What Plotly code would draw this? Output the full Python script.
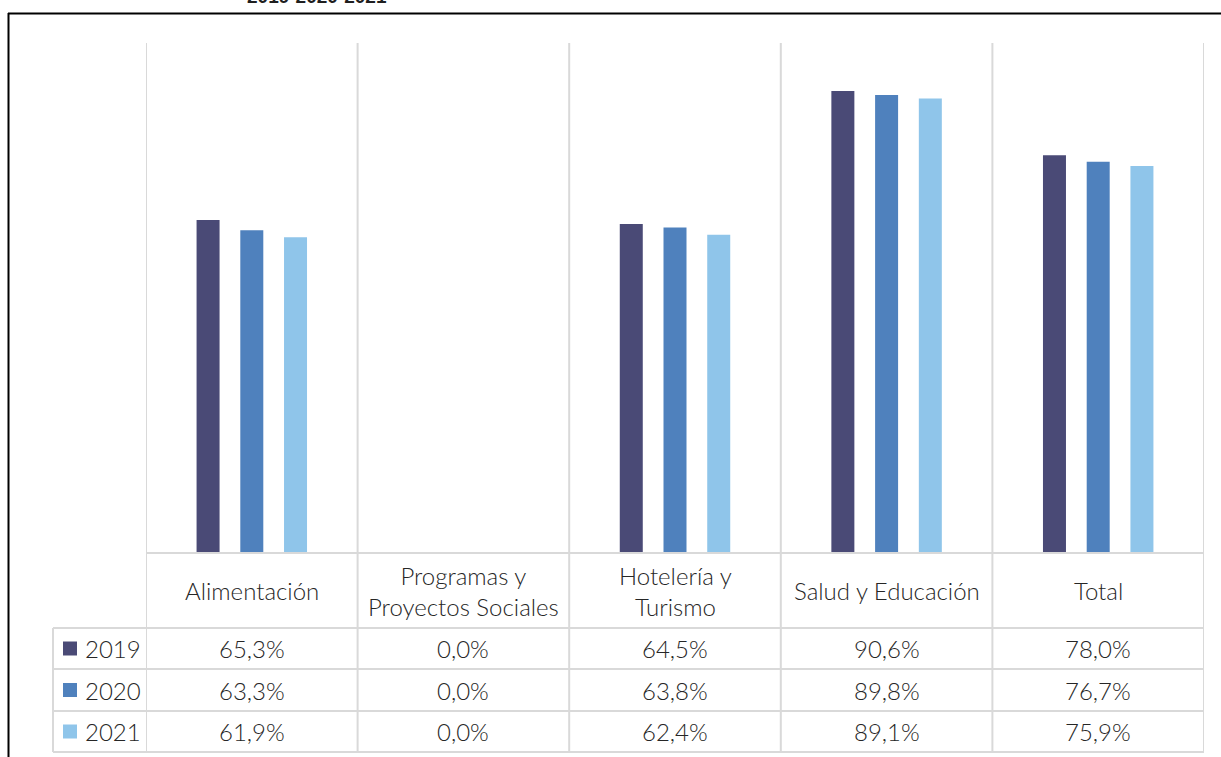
import plotly.graph_objects as go

categories = ["Alimentación", "Programas y Proyectos Sociales", "Hotelería y Turismo",
              "Salud y Educación", "Total"]
header_labels = ["Alimentación", "Programas y<br>Proyectos Sociales", "Hotelería y<br>Turismo",
                 "Salud y Educación", "Total"]
years = ["2019", "2020", "2021"]
v2019 = [65.3, 0.0, 64.5, 90.6, 78.0]
v2020 = [63.3, 0.0, 63.8, 89.8, 76.7]
v2021 = [61.9, 0.0, 62.4, 89.1, 75.9]
colors = ["#4a4a76", "#4f81bd", "#8fc5ea"]
title_text = "2019-2020-2021"

W, H = 1221, 757
def px(x):
    return x / W
def py(y):
    return 1 - y / H

FONT = "Lato"
FS = 24
TXT = "#262626"
GRID = "#d9d9d9"

series = [v2019, v2020, v2021]
fig = go.Figure()
for name, vals, col in zip(years, series, colors):
    fig.add_trace(go.Bar(x=list(range(len(categories))), y=vals, name=name,
                         marker=dict(color=col, line=dict(width=0)),
                         hoverinfo="skip", showlegend=False))

plot_left, plot_right, plot_top, plot_bottom = 146, 1204, 43, 553
row_lines = [628, 669, 711, 752]
table_left = 53

shapes = []
# border
shapes.append(dict(type="line", xref="paper", yref="paper", x0=px(8), x1=px(1225),
                   y0=py(13.5), y1=py(13.5), line=dict(color="#000000", width=2)))
shapes.append(dict(type="line", xref="paper", yref="paper", x0=px(8.5), x1=px(8.5),
                   y0=py(13), y1=py(760), line=dict(color="#000000", width=2)))
# vertical grid lines at category boundaries
for i in range(len(categories) + 1):
    shapes.append(dict(type="line", xref="x", yref="paper", x0=i - 0.5, x1=i - 0.5,
                       y0=py(plot_top), y1=py(row_lines[-1]),
                       line=dict(color=GRID, width=2), layer="below"))
# horizontal table lines
shapes.append(dict(type="line", xref="x", yref="paper", x0=-0.5, x1=len(categories) - 0.5,
                   y0=py(plot_bottom), y1=py(plot_bottom), line=dict(color=GRID, width=2)))
for y in row_lines:
    shapes.append(dict(type="line", xref="paper", yref="paper", x0=px(table_left), x1=px(plot_right),
                       y0=py(y), y1=py(y), line=dict(color=GRID, width=2)))
shapes.append(dict(type="line", xref="paper", yref="paper", x0=px(table_left), x1=px(table_left),
                   y0=py(row_lines[0]), y1=py(row_lines[-1]), line=dict(color=GRID, width=2)))

tfont = dict(family=FONT, size=FS, color=TXT, weight=300)
annotations = []
# header
for i, lab in enumerate(header_labels):
    annotations.append(dict(x=i, xref="x", y=py((plot_bottom + row_lines[0]) / 2), yref="paper",
                            text=lab, showarrow=False, font=tfont,
                            xanchor="center", yanchor="middle", align="center"))
# rows
row_centers = [(row_lines[k] + row_lines[k + 1]) / 2 for k in range(3)]
for k, (name, vals, col) in enumerate(zip(years, series, colors)):
    yc = row_centers[k]
    shapes.append(dict(type="rect", xref="paper", yref="paper", x0=px(63), x1=px(77),
                       y0=py(yc - 7), y1=py(yc + 7), fillcolor=col, line=dict(width=0)))
    annotations.append(dict(x=px(83), xref="paper", y=py(yc), yref="paper", text=name,
                            showarrow=False, font=tfont,
                            xanchor="left", yanchor="middle"))
    for i, v in enumerate(vals):
        annotations.append(dict(x=i, xref="x", y=py(yc), yref="paper",
                                text=f"{v:.1f}%".replace(".", ","), showarrow=False,
                                font=tfont, xanchor="center", yanchor="middle"))
# cut-off title (only its lower edge shows at the top of the picture)
annotations.append(dict(x=px(317), xref="paper", y=py(9), yref="paper", text=f"<b>{title_text}</b>",
                        showarrow=False, font=dict(family="Liberation Sans", size=19, color="#1f1f1f"),
                        xanchor="center", yanchor="bottom"))

fig.update_layout(
    width=W, height=H, margin=dict(l=0, r=0, t=0, b=0),
    paper_bgcolor="white", plot_bgcolor="white",
    barmode="group", bargap=0.38, bargroupgap=0.474,
    xaxis=dict(domain=[px(plot_left), px(plot_right)], range=[-0.5, len(categories) - 0.5],
               showgrid=False, zeroline=False, showticklabels=False, ticks=""),
    yaxis=dict(domain=[py(plot_bottom), py(plot_top)], range=[0, 100],
               showgrid=False, zeroline=False, showticklabels=False, ticks=""),
    shapes=shapes, annotations=annotations, font=dict(family=FONT, color=TXT),
)

fig.write_html("out.html", config={"displayModeBar": False},
               post_script="document.body.style.margin='0';document.body.style.overflow='hidden';")
